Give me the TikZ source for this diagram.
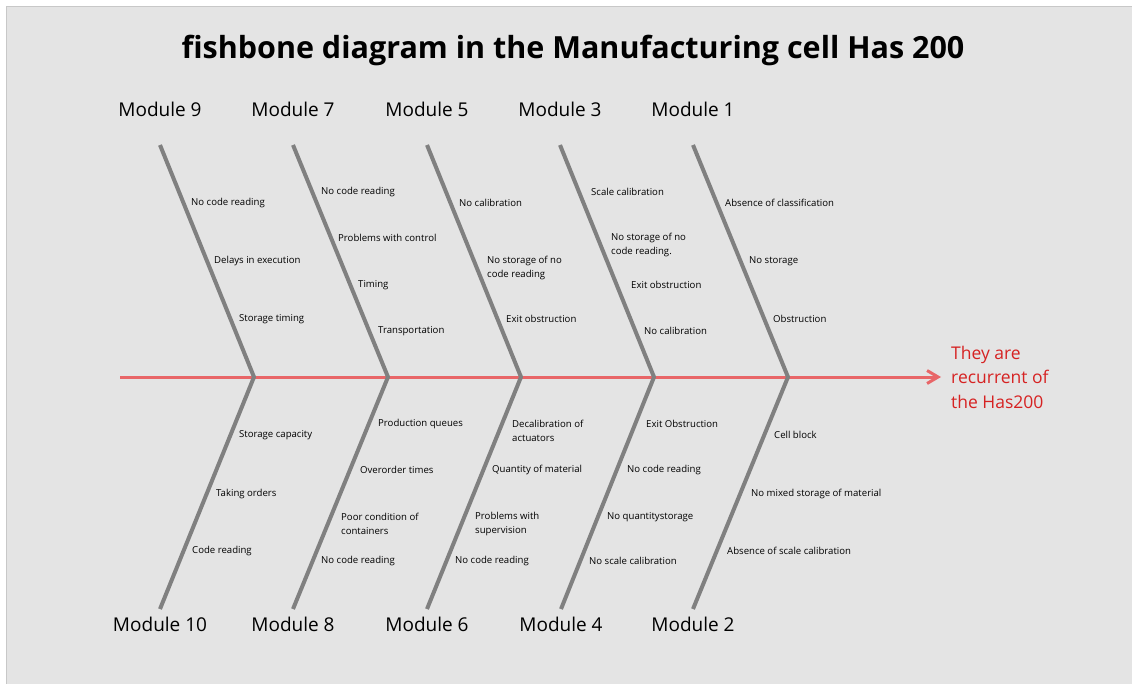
\documentclass[tikz,border=0pt]{standalone}
\usepackage{fontspec}
\setmainfont{Open Sans}
\usepackage{xcolor}
\usepackage{tikz}
\usetikzlibrary{arrows.meta,positioning}

\definecolor{bgGray}{RGB}{228,228,228}
\definecolor{frameGray}{RGB}{200,200,200}
\definecolor{boneGray}{RGB}{128,128,128}
\definecolor{spineRed}{RGB}{232,102,104}
\definecolor{effectRed}{RGB}{214,34,34}

\begin{document}
\begin{tikzpicture}[x=1pt,
    y=-1pt,
    >={Straight Barb[length=11pt,width=13pt]},
    line join=round,
    node distance=1cm]
  \tikzstyle{bone}=[draw=boneGray,line width=4pt]
  \tikzstyle{spine}=[draw=spineRed,line width=3pt]
  \tikzstyle{module}=[inner sep=0pt,font=\fontsize{19}{22}\selectfont]
  \tikzstyle{cause}=[anchor=west,inner sep=0pt,align=left,font=\fontsize{9.6}{14}\selectfont]

  \useasboundingbox (0,0) rectangle (1132,683);
  \fill[bgGray,draw=frameGray] (6,6) rectangle (1140,690);

  \node (title) at (573,50) {\fontsize{30.5}{34}\selectfont\bfseries fishbone diagram in the Manufacturing cell Has 200};

  % spine and effect
  \coordinate (tail) at (120,377);
  \node (eff) [anchor=west,inner sep=0pt,align=left,text=effectRed,
    font=\fontsize{17.5}{24.5}\selectfont] at (951,377)
    {They are\\recurrent of\\the Has200};
  \draw[spine,->,shorten >=10pt] (tail) -- (eff);

  % joints on the spine
  \coordinate (j9) at (254,377);
  \coordinate (j7) at (388,377);
  \coordinate (j5) at (521,377);
  \coordinate (j3) at (654,377);
  \coordinate (j1) at (788,377);

  % bone ends
  \coordinate (t9) at (160,145);
  \coordinate (t7) at (293,145);
  \coordinate (t5) at (427,145);
  \coordinate (t3) at (560,145);
  \coordinate (t1) at (693,145);
  \coordinate (b10) at (160,609);
  \coordinate (b8)  at (293,609);
  \coordinate (b6)  at (427,609);
  \coordinate (b4)  at (561,609);
  \coordinate (b2)  at (693,609);

  \draw[bone] (t9) -- (j9) -- (b10);
  \draw[bone] (t7) -- (j7) -- (b8);
  \draw[bone] (t5) -- (j5) -- (b6);
  \draw[bone] (t3) -- (j3) -- (b4);
  \draw[bone] (t1) -- (j1) -- (b2);

  % module labels
  \node (M9) [module,above=28pt of t9] {Module 9};
  \node (M7) [module,above=28pt of t7] {Module 7};
  \node (M5) [module,above=28pt of t5] {Module 5};
  \node (M3) [module,above=28pt of t3] {Module 3};
  \node (M1) [module,above=28pt of t1] {Module 1};
  \node (M10) [module,below=8pt of b10] {Module 10};
  \node (M8)  [module,below=8pt of b8]  {Module 8};
  \node (M6)  [module,below=8pt of b6]  {Module 6};
  \node (M4)  [module,below=8pt of b4]  {Module 4};
  \node (M2)  [module,below=8pt of b2]  {Module 2};

  % causes, upper side
  \node (c9a) [cause] at (191,203) {No code reading};
  \node (c9b) [cause] at (214,261) {Delays in execution};
  \node (c9c) [cause] at (239,319) {Storage timing};

  \node (c7a) [cause] at (321,192) {No code reading};
  \node (c7b) [cause] at (338,238) {Problems with control};
  \node (c7c) [cause] at (358,285) {Timing};
  \node (c7d) [cause] at (378,331) {Transportation};

  \node (c5a) [cause] at (459,203) {No calibration};
  \node (c5b) [cause] at (487,268) {No storage of no\\code reading};
  \node (c5c) [cause] at (506,319) {Exit obstruction};

  \node (c3a) [cause] at (591,192) {Scale calibration};
  \node (c3b) [cause] at (611,245) {No storage of no\\code reading.};
  \node (c3c) [cause] at (631,285) {Exit obstruction};
  \node (c3d) [cause] at (644,331) {No calibration};

  \node (c1a) [cause] at (725,203) {Absence of classification};
  \node (c1b) [cause] at (749,261) {No storage};
  \node (c1c) [cause] at (773,319) {Obstruction};

  % causes, lower side
  \node (c10a) [cause] at (239,435) {Storage capacity};
  \node (c10b) [cause] at (216,494) {Taking orders};
  \node (c10c) [cause] at (192,551) {Code reading};

  \node (c8a) [cause] at (378,424) {Production queues};
  \node (c8b) [cause] at (360,470) {Overorder times};
  \node (c8c) [cause] at (341,524) {Poor condition of\\containers};
  \node (c8d) [cause] at (321,561) {No code reading};

  \node (c6a) [cause] at (512,431) {Decalibration of\\actuators};
  \node (c6b) [cause] at (492,470) {Quantity of material};
  \node (c6c) [cause] at (475,524) {Problems with\\supervision};
  \node (c6d) [cause] at (455,561) {No code reading};

  \node (c4a) [cause] at (646,424) {Exit Obstruction};
  \node (c4b) [cause] at (627,470) {No code reading};
  \node (c4c) [cause] at (607,517) {No quantitystorage};
  \node (c4d) [cause] at (589,561) {No scale calibration};

  \node (c2a) [cause] at (774,435) {Cell block};
  \node (c2b) [cause] at (751,494) {No mixed storage of material};
  \node (c2c) [cause] at (727,551) {Absence of scale calibration};
\end{tikzpicture}
\end{document}
